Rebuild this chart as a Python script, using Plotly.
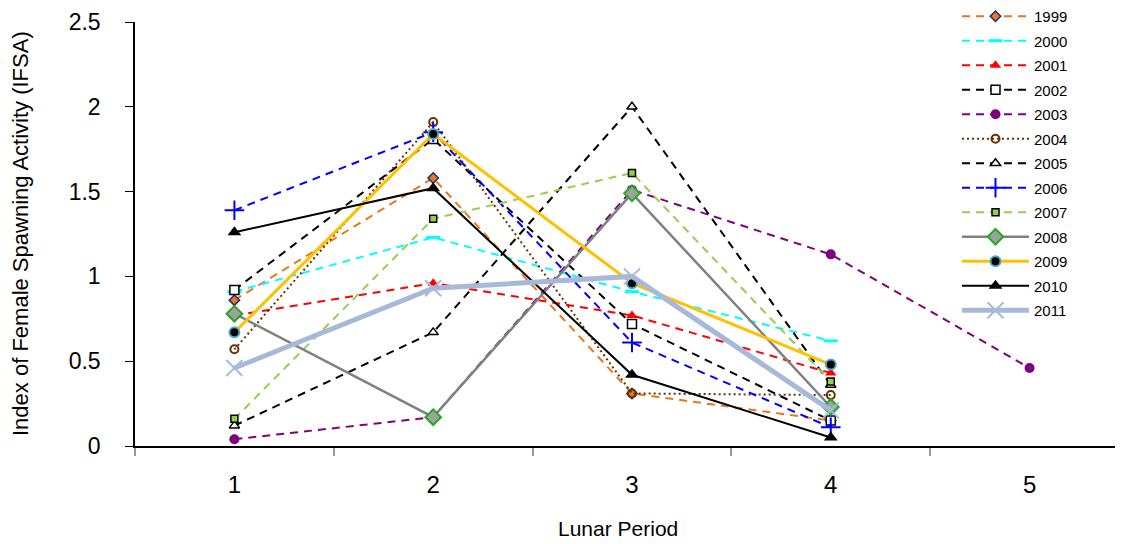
import plotly.graph_objects as go

periods = ["1", "2", "3", "4", "5"]

years = ["1999", "2000", "2001", "2002", "2003", "2004", "2005",
         "2006", "2007", "2008", "2009", "2010", "2011"]

v1999 = [0.86, 1.58, 0.31, 0.15]
v2000 = [0.91, 1.23, 0.91, 0.62]
v2001 = [0.77, 0.96, 0.77, 0.43]
v2002 = [0.92, 1.81, 0.72, 0.15]
v2003 = [0.04, 0.17, 1.51, 1.13, 0.46]
v2004 = [0.57, 1.91, 0.31, 0.30]
v2005 = [0.12, 0.67, 2.00, 0.36]
v2006 = [1.39, 1.85, 0.61, 0.11]
v2007 = [0.16, 1.34, 1.61, 0.38]
v2008 = [0.78, 0.17, 1.49, 0.23]
v2009 = [0.67, 1.84, 0.96, 0.48]
v2010 = [1.26, 1.52, 0.42, 0.05]
v2011 = [0.46, 0.93, 1.00, 0.21]

values = [v1999, v2000, v2001, v2002, v2003, v2004, v2005,
          v2006, v2007, v2008, v2009, v2010, v2011]

DASH = "8px,6px"
styles = [
    dict(line=dict(color="#E8771E", width=2, dash=DASH),
         marker=dict(symbol="diamond", size=8, color="#E8771E", line=dict(color="#1F2A80", width=1.5))),
    dict(line=dict(color="#00FFFF", width=2, dash=DASH),
         marker=dict(symbol="line-ew", size=10, color="#00FFFF", line=dict(color="#00FFFF", width=3))),
    dict(line=dict(color="#FF0000", width=2, dash=DASH),
         marker=dict(symbol="triangle-up", size=10, color="#FF0000", line=dict(color="#FF0000", width=0))),
    dict(line=dict(color="#000000", width=2, dash=DASH),
         marker=dict(symbol="square", size=9, color="#FFFFFF", line=dict(color="#000000", width=1.5))),
    dict(line=dict(color="#800080", width=2, dash=DASH),
         marker=dict(symbol="circle", size=10, color="#800080", line=dict(color="#800080", width=0))),
    dict(line=dict(color="#663300", width=2, dash="2px,3px"),
         marker=dict(symbol="circle-open", size=8, color="#663300", line=dict(color="#663300", width=2))),
    dict(line=dict(color="#000000", width=2, dash=DASH),
         marker=dict(symbol="triangle-up", size=9, color="#FFFFFF", line=dict(color="#000000", width=1.5))),
    dict(line=dict(color="#0000FF", width=2, dash=DASH),
         marker=dict(symbol="cross-thin", size=14, color="#0000FF", line=dict(color="#0000FF", width=2))),
    dict(line=dict(color="#92D050", width=2, dash=DASH),
         marker=dict(symbol="square", size=7, color="#92D050", line=dict(color="#000000", width=1.5))),
    dict(line=dict(color="#808080", width=2.5),
         marker=dict(symbol="diamond", size=12, color="#A0A0A0", line=dict(color="#22AA22", width=2))),
    dict(line=dict(color="#FFC000", width=3),
         marker=dict(symbol="circle", size=10, color="#000000", line=dict(color="#4BACC6", width=2))),
    dict(line=dict(color="#000000", width=2),
         marker=dict(symbol="triangle-up", size=12, color="#000000", line=dict(color="#000000", width=0))),
    dict(line=dict(color="#A6B9D8", width=5),
         marker=dict(symbol="x-thin", size=16, color="#A6B9D8", line=dict(color="#A6B9D8", width=2))),
]

fig = go.Figure()
for yr, vals, st in zip(years, values, styles):
    fig.add_trace(go.Scatter(
        x=periods[:len(vals)], y=vals, mode="lines+markers", name=yr,
        legendgroup=yr, line=st["line"], marker=st["marker"],
    ))

# page has an 8px body margin; work in page pixels and convert
OFF = 8
W, H = 1123 - OFF, 544 - OFF
ml, mt = 135 - OFF, 22 - OFF
plot_bottom = 446 - OFF
mr = 0
mb = H - plot_bottom
pw, ph = W - ml - mr, plot_bottom - mt


def px_x(page_x):
    return (page_x - OFF - ml) / pw


def px_y(page_y):
    return (plot_bottom - (page_y - OFF)) / ph


fig.update_layout(
    width=W, height=H,
    margin=dict(l=ml, r=mr, t=mt, b=mb, pad=0, autoexpand=False),
    paper_bgcolor="white", plot_bgcolor="white",
    font=dict(family="Liberation Sans, Arial, sans-serif", color="#000000"),
    showlegend=True,
    legend=dict(
        x=px_x(957), y=px_y(0), xanchor="left", yanchor="top",
        font=dict(size=15), itemwidth=67, bgcolor="rgba(255,255,255,0)",
        tracegroupgap=2, traceorder="grouped", maxheight=520,
    ),
    xaxis=dict(
        type="category", categoryorder="array", categoryarray=periods,
        range=[-0.5, 4.47], tickson="boundaries",
        showline=True, linecolor="#000000", linewidth=1.5,
        ticks="outside", ticklen=8, tickcolor="#999999", tickwidth=1.5,
        tickfont=dict(size=24), ticklabelstandoff=16,
        showgrid=False, zeroline=False,
    ),
    yaxis=dict(
        range=[0, 2.5], dtick=0.5, tick0=0,
        showline=True, linecolor="#000000", linewidth=1.5,
        ticks="outside", ticklen=8, tickcolor="#000000", tickwidth=1,
        tickfont=dict(size=23), ticklabelstandoff=20,
        showgrid=False, zeroline=False,
    ),
    annotations=[
        dict(text="Lunar Period", xref="paper", yref="paper",
             x=px_x(618), y=px_y(528),
             xanchor="center", yanchor="middle", showarrow=False,
             font=dict(size=21)),
        dict(text="Index of Female Spawning Activity (IFSA)", xref="paper", yref="paper",
             x=px_x(20), y=px_y(234), textangle=-90,
             xanchor="center", yanchor="middle", showarrow=False,
             font=dict(size=22)),
    ],
)

fig.write_html("out.html")
